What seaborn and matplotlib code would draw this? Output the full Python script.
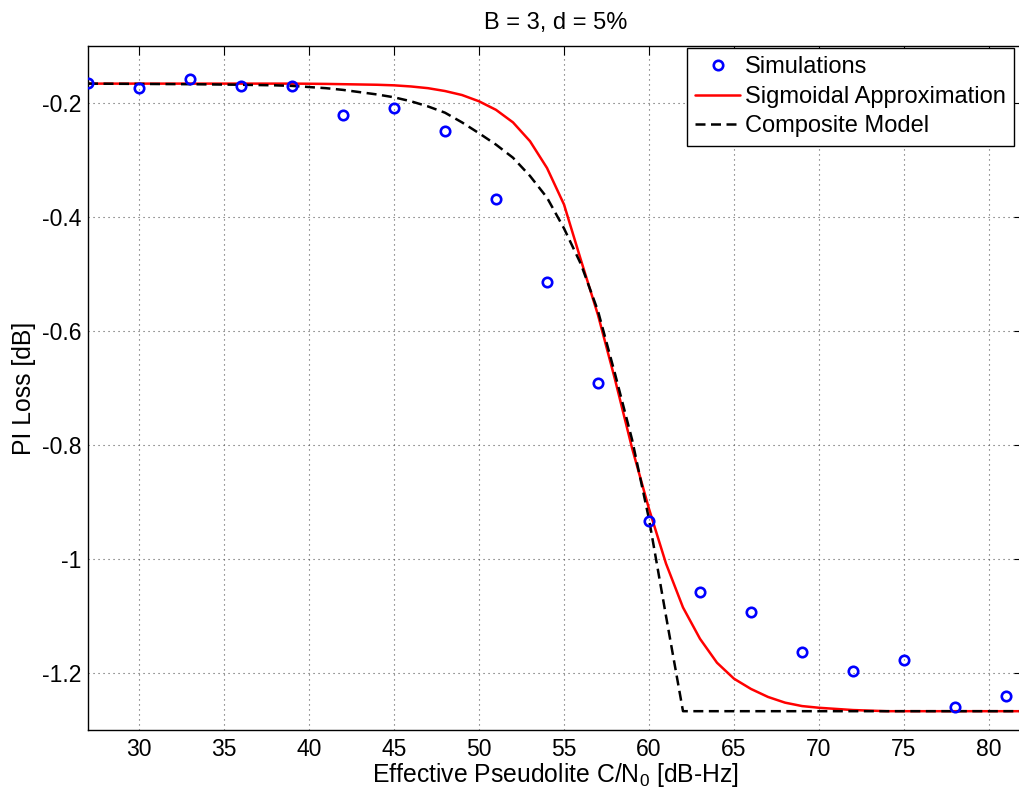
import numpy as np
import pandas as pd
import matplotlib
matplotlib.use("Agg")
import matplotlib.pyplot as plt
import seaborn as sns

# ---- data ----
sim_x = [27, 30, 33, 36, 39, 42, 45, 48, 51, 54, 57, 60, 63, 66, 69, 72, 75, 78, 81]
sim_y = [-0.165, -0.174, -0.158, -0.171, -0.170, -0.2205, -0.208, -0.249, -0.368,
         -0.514, -0.692, -0.934, -1.058, -1.093, -1.164, -1.197, -1.178, -1.259, -1.240]

sig_x = list(range(27, 83))
sig_y = [-0.166, -0.166, -0.166, -0.166, -0.166, -0.166, -0.166, -0.166, -0.166,
         -0.166, -0.166, -0.166, -0.166, -0.1662, -0.1665, -0.167, -0.1675, -0.168,
         -0.169, -0.171, -0.174, -0.179, -0.186, -0.197, -0.212, -0.234, -0.267,
         -0.314, -0.378, -0.476, -0.572, -0.685, -0.805, -0.912, -1.008, -1.085,
         -1.140, -1.182, -1.210, -1.228, -1.242, -1.252, -1.258, -1.261, -1.263,
         -1.265, -1.266, -1.267, -1.267, -1.267, -1.267, -1.267, -1.267, -1.267,
         -1.267, -1.267]

comp_x = [27, 30, 33, 36, 38, 39, 40, 41, 42, 43, 44, 45, 46, 47, 48, 49, 50, 51,
          52, 53, 54, 55, 56, 57, 58, 59, 60, 61, 62, 70, 82]
comp_y = [-0.166, -0.1665, -0.167, -0.168, -0.169, -0.170, -0.172, -0.174, -0.177,
          -0.181, -0.185, -0.190, -0.197, -0.206, -0.217, -0.234, -0.253, -0.273,
          -0.296, -0.328, -0.366, -0.420, -0.483, -0.565, -0.675, -0.790, -0.930,
          -1.100, -1.267, -1.267, -1.267]

x_ticks = [30, 35, 40, 45, 50, 55, 60, 65, 70, 75, 80]
y_ticks = [-1.2, -1.0, -0.8, -0.6, -0.4, -0.2]
y_tick_labels = ["-1.2", "-1", "-0.8", "-0.6", "-0.4", "-0.2"]

title = "B = 3, d = 5%"
xlabel = r"Effective Pseudolite C/N$_\mathregular{0}$ [dB-Hz]"
ylabel = "PI Loss [dB]"

# ---- style ----
sns.set_style("white")
plt.rcParams["font.family"] = ["Liberation Sans", "DejaVu Sans"]
plt.rcParams["mathtext.fontset"] = "custom"
plt.rcParams["mathtext.rm"] = "Liberation Sans"
plt.rcParams["axes.unicode_minus"] = False
plt.rcParams["text.color"] = "black"
plt.rcParams["axes.labelcolor"] = "black"
plt.rcParams["xtick.color"] = "black"
plt.rcParams["ytick.color"] = "black"

W, H = 1020, 794
fig = plt.figure(figsize=(W / 100, H / 100), dpi=100)
left, right, top, bottom = 88, 1023, 46, 730
ax = fig.add_axes([left / W, 1 - bottom / H, (right - left) / W, (bottom - top) / H])

df_sim = pd.DataFrame({"x": sim_x, "y": sim_y})
df_sig = pd.DataFrame({"x": sig_x, "y": sig_y})
df_comp = pd.DataFrame({"x": comp_x, "y": comp_y})

sns.lineplot(data=df_sim, x="x", y="y", ax=ax, linestyle="", marker="o",
             markersize=6.8, markerfacecolor="none", markeredgecolor="#0000ff",
             markeredgewidth=1.9, color="#0000ff", label="Simulations", zorder=3)
sns.lineplot(data=df_sig, x="x", y="y", ax=ax, color="#ff0000", linewidth=1.8,
             label="Sigmoidal Approximation", zorder=2)
sns.lineplot(data=df_comp, x="x", y="y", ax=ax, color="black", linewidth=1.8,
             linestyle=(0, (4.0, 2.2)), label="Composite Model", zorder=2.5)

ax.set_xlim(27, 82)
ax.set_ylim(-1.3, -0.1)
ax.set_xticks(x_ticks)
ax.set_xticklabels([str(t) for t in x_ticks])
ax.set_yticks(y_ticks)
ax.set_yticklabels(y_tick_labels)

fs_tick = 16.5
fs_lab = 17.8
ax.tick_params(direction="in", length=6.5, width=0.8, top=True, right=True,
               labelsize=fs_tick, colors="black", pad=6)
ax.tick_params(axis="y", pad=5)
for s in ax.spines.values():
    s.set_visible(True)
    s.set_color("black")
    s.set_linewidth(1.0)

ax.grid(True, color="0.35", linestyle=(0, (1, 3.5)), linewidth=0.8)
ax.set_axisbelow(True)

ax.set_title(title, fontsize=17, pad=12, color="black")
ax.set_xlabel(xlabel, fontsize=fs_lab, labelpad=0, color="black")
ax.set_ylabel(ylabel, fontsize=fs_lab, labelpad=4, color="black")

leg = ax.legend(loc="upper right", bbox_to_anchor=(1014 / W, 1 - 48 / H),
                bbox_transform=fig.transFigure, borderaxespad=0, fontsize=17,
                frameon=True, fancybox=False, framealpha=1, edgecolor="black",
                handlelength=1.9, handletextpad=0.2, labelspacing=0.32,
                borderpad=0.35)
leg.get_frame().set_linewidth(1.0)
for t in leg.get_texts():
    t.set_color("black")

fig.savefig("out.png", dpi=100)
